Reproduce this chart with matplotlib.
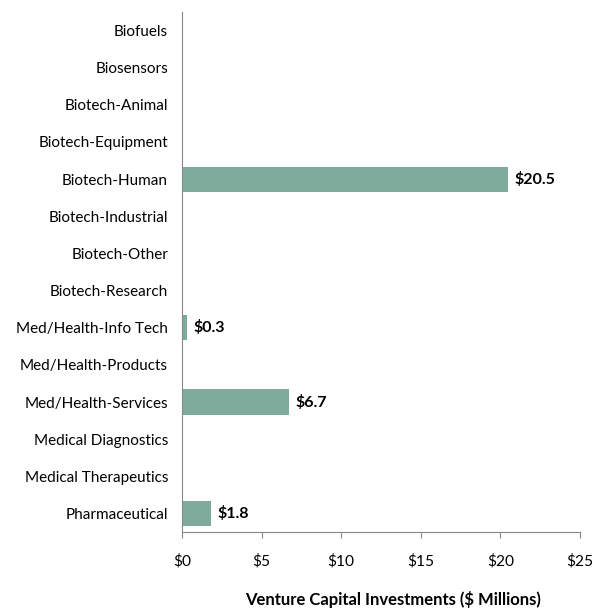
import matplotlib.pyplot as plt

categories = ["Biofuels", "Biosensors", "Biotech-Animal", "Biotech-Equipment",
              "Biotech-Human", "Biotech-Industrial", "Biotech-Other",
              "Biotech-Research", "Med/Health-Info Tech", "Med/Health-Products",
              "Med/Health-Services", "Medical Diagnostics",
              "Medical Therapeutics", "Pharmaceutical"]
values = [0, 0, 0, 0, 20.5, 0, 0, 0, 0.3, 0, 6.7, 0, 0, 1.8]
xticks = [0, 5, 10, 15, 20, 25]

plt.rcParams['font.family'] = ['Lato', 'DejaVu Sans']

fig = plt.figure(figsize=(6.05, 6.12), dpi=100)
ax = fig.add_axes([0.3008, 0.1307, 0.6579, 0.8497])

pos = list(range(len(categories)))
ax.barh(pos, values, height=0.68, color='#7FAB9D')
for p, v in zip(pos, values):
    if v > 0:
        ax.text(v + 0.4, p, '$%.1f' % v, va='center', ha='left',
                fontsize=11.5, fontweight='bold', color='black')

ax.set_ylim(len(categories) - 0.5, -0.5)
ax.set_yticks(pos)
ax.set_yticklabels(categories, fontsize=11)
ax.tick_params(axis='y', length=0, pad=10)
ax.set_xlim(0, 25)
ax.set_xticks(xticks)
ax.set_xticklabels(['$%d' % t for t in xticks], fontsize=11.2)
ax.tick_params(axis='x', length=4, color='#888888', pad=12)
for s in ['top', 'right']:
    ax.spines[s].set_visible(False)
for s in ['left', 'bottom']:
    ax.spines[s].set_color('#888888')
ax.set_xlabel('Venture Capital Investments ($ Millions)', fontsize=12,
              fontweight='bold')
ax.xaxis.set_label_coords(0.53, -0.113)

fig.savefig('out.png', dpi=100)
